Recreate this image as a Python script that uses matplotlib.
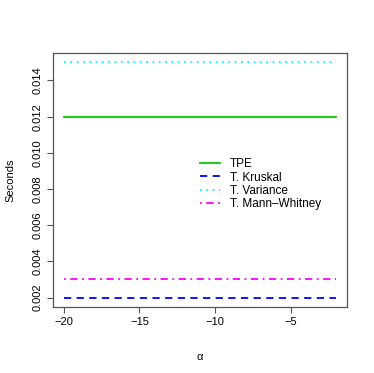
import matplotlib
matplotlib.use('Agg')
import matplotlib.pyplot as plt
import numpy as np

# data
alpha = np.arange(-20, -1)
labels = ['TPE', 'T. Kruskal', 'T. Variance', 'T. Mann\u2013Whitney']
tpe = [0.012] * len(alpha)
kruskal = [0.002] * len(alpha)
variance = [0.015] * len(alpha)
mann = [0.003] * len(alpha)

plt.rcParams['font.family'] = ['Liberation Sans', 'DejaVu Sans']

fig = plt.figure(figsize=(3.74, 3.73), dpi=100)
ax = fig.add_axes([0.1417, 0.177, 0.786, 0.681])

lw = 1.3
ax.plot(alpha, tpe, color='#00CD00', lw=lw, label=labels[0])
ax.plot(alpha, kruskal, color='blue', lw=lw, dashes=(4, 3), label=labels[1])
ax.plot(alpha, variance, color='cyan', lw=lw, dashes=(1, 2.5), label=labels[2])
ax.plot(alpha, mann, color='magenta', lw=lw, dashes=(1, 2.5, 4, 2.5), label=labels[3])

ax.set_xlim(-20.72, -1.28)
ax.set_ylim(0.00148, 0.01552)
ax.set_xticks([-20, -15, -10, -5])
ax.set_xticklabels(['\u221220', '\u221215', '\u221210', '\u22125'])
yt = np.arange(0.002, 0.0141, 0.002)
ax.set_yticks(yt)
ax.set_yticklabels([f'{v:.3f}' for v in yt], rotation=90, va='center')
ax.tick_params(labelsize=8, length=4.5, width=0.8, color='#555555', pad=3)
for s in ax.spines.values():
    s.set_color('#555555')
    s.set_linewidth(0.9)

ax.set_xlabel('\u03b1', fontsize=8, labelpad=18)
ax.set_ylabel('Seconds', fontsize=8, labelpad=12)

ax.legend(loc='center left', bbox_to_anchor=(0.465, 0.483), frameon=False,
          fontsize=8.5, handlelength=1.7, labelspacing=0.12, handletextpad=0.8)

plt.savefig('out.png', dpi=100)
plt.close()
